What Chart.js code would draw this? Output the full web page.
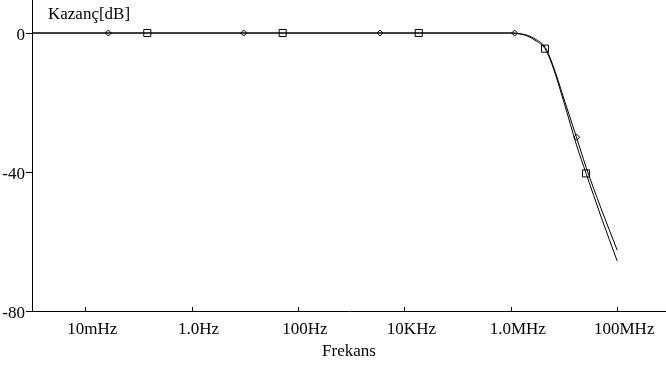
<!DOCTYPE html>
<html>
<head>
<meta charset="utf-8">
<script src="https://cdn.jsdelivr.net/npm/chart.js@4.4.1/dist/chart.umd.min.js"></script>
<style>
  html, body { margin: 0; padding: 0; background: #fff; }
  #wrap { width: 666px; height: 371px; }
</style>
</head>
<body>
<div id="wrap"><canvas id="chart"></canvas></div>
<script>
// frequency sweep points (Hz) and gain (dB)
const freqs = [0.001, 1e6, 1.5e6, 2e6, 3e6, 4.4e6, 6e6, 1e7, 1.7e7, 2.6e7, 5e7, 1e8];
const gainSquare = [0, 0, -0.3, -0.8, -2.3, -4.5, -9.2, -20, -32, -40.4, -53, -65.6];
const gainDiamond = [0, 0, -0.2, -0.6, -1.9, -4.1, -8.7, -19, -29.8, -38.6, -50.6, -62.5];

// marker positions
const diamondFreqs = [0.0272, 9.53, 3475, 1.18e6, 1.73e7];
const diamondGain = [0, 0, 0, 0, -30];
const squareFreqs = [0.147, 51.5, 1.86e4, 4.4e6, 2.59e7];
const squareGain = [0, 0, 0, -4.5, -40.4];

const xTicks = [0.01, 1, 100, 1e4, 1e6, 1e8];
const xTickLabels = ['10mHz', '1.0Hz', '100Hz', '10KHz', '1.0MHz', '100MHz'];
const yTicks = [-80, -40, 0];

const pts = (xs, ys) => xs.map((x, i) => ({ x: x, y: ys[i] }));
const font = { family: 'Liberation Serif', size: 17 };

const extras = {
  id: 'extras',
  afterDraw(chart) {
    const ctx = chart.ctx, x = chart.scales.x, area = chart.chartArea;
    ctx.save();
    ctx.strokeStyle = '#000';
    ctx.lineWidth = 1;
    xTicks.forEach(v => {
      const px = Math.round(x.getPixelForValue(v)) + 0.5;
      ctx.beginPath();
      ctx.moveTo(px, area.bottom);
      ctx.lineTo(px, area.bottom - 4);
      ctx.stroke();
    });
    ctx.fillStyle = '#000';
    ctx.font = '17px "Liberation Serif"';
    ctx.textBaseline = 'middle';
    ctx.fillText('Kazanç[dB]', area.left + 16, 15);
    ctx.restore();
  }
};

const noPad = s => {
  s.paddingTop = 0; s.paddingBottom = 0; s.paddingLeft = 0; s.paddingRight = 0;
};

new Chart(document.getElementById('chart'), {
  type: 'line',
  data: {
    datasets: [
      {
        label: 'square curve',
        data: pts(freqs, gainSquare),
        borderColor: '#000',
        borderWidth: 1,
        pointRadius: 0,
        cubicInterpolationMode: 'monotone'
      },
      {
        label: 'diamond curve',
        data: pts(freqs, gainDiamond),
        borderColor: '#000',
        borderWidth: 1,
        pointRadius: 0,
        cubicInterpolationMode: 'monotone'
      },
      {
        label: 'diamonds',
        data: pts(diamondFreqs, diamondGain),
        showLine: false,
        pointStyle: 'rectRot',
        pointRadius: 3,
        borderColor: '#000',
        borderWidth: 1,
        backgroundColor: 'rgba(0,0,0,0)'
      },
      {
        label: 'squares',
        data: pts(squareFreqs, squareGain),
        showLine: false,
        pointStyle: 'rect',
        pointRadius: 5,
        borderColor: '#000',
        borderWidth: 1,
        backgroundColor: 'rgba(0,0,0,0)'
      }
    ]
  },
  options: {
    responsive: true,
    maintainAspectRatio: false,
    animation: false,
    layout: { padding: 0, autoPadding: false },
    plugins: { legend: { display: false }, tooltip: { enabled: false } },
    scales: {
      x: {
        type: 'logarithmic',
        min: 0.001,
        max: 8.26e8,
        afterBuildTicks: s => { s.ticks = xTicks.map(v => ({ value: v })); },
        afterFit: s => { s.height = 60; noPad(s); },
        ticks: {
          color: '#000',
          font: font,
          padding: 8,
          labelOffset: 7,
          maxRotation: 0,
          autoSkip: false,
          callback: (v) => xTickLabels[xTicks.indexOf(v)]
        },
        grid: { drawOnChartArea: false, drawTicks: false },
        border: { color: '#000', width: 1 },
        title: {
          display: true,
          text: 'Frekans',
          color: '#000',
          font: font,
          padding: { top: 0, bottom: 9 }
        }
      },
      y: {
        min: -80,
        max: 9.5,
        afterBuildTicks: s => { s.ticks = yTicks.map(v => ({ value: v })); },
        afterFit: s => { s.width = 32; noPad(s); },
        ticks: { color: '#000', font: font, padding: 1, labelOffset: 3 },
        grid: { drawOnChartArea: false, drawTicks: true, tickLength: 6, color: '#000' },
        border: { color: '#000', width: 1 }
      }
    }
  },
  plugins: [extras]
});
</script>
</body>
</html>
